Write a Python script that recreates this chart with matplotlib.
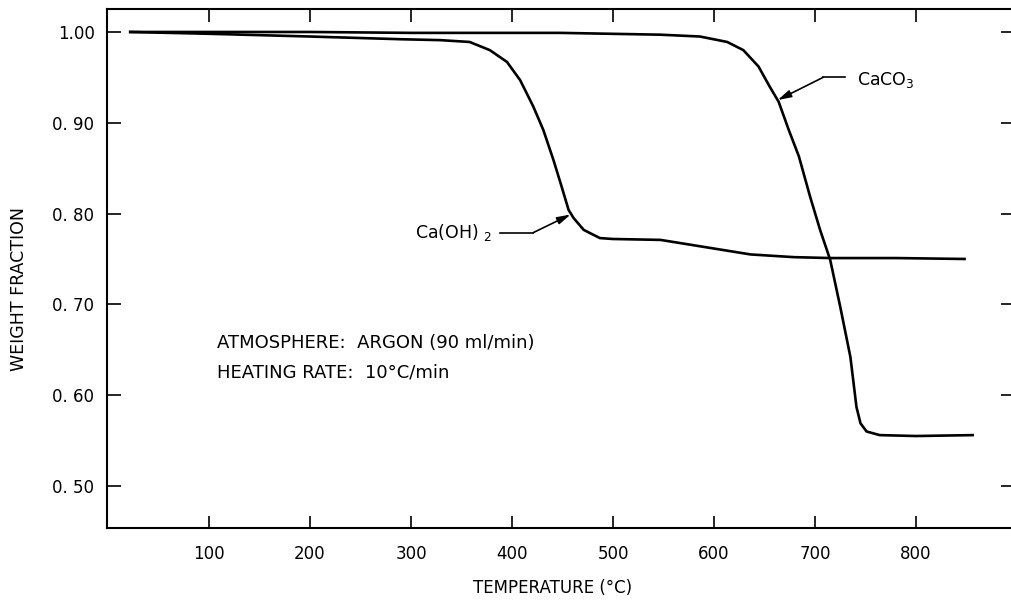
import matplotlib
matplotlib.use("Agg")
import matplotlib.pyplot as plt

plt.rcParams['font.family'] = ['DejaVu Sans']
plt.rcParams['mathtext.fontset'] = 'dejavusans'

# Ca(OH)2 weight loss curve
caoh_temp = [22, 100, 200, 290, 329, 358, 378, 395, 408, 421, 431, 441, 449, 456,
             461, 471, 487, 500, 547, 586, 636, 679, 715, 780, 848]
caoh_frac = [1.000, 0.998, 0.995, 0.992, 0.991, 0.989, 0.980, 0.967, 0.947, 0.918,
             0.892, 0.859, 0.830, 0.804, 0.795, 0.782, 0.773, 0.772, 0.771, 0.764,
             0.755, 0.752, 0.751, 0.751, 0.750]

# CaCO3 weight loss curve
caco_temp = [22, 200, 300, 448, 547, 586, 613, 629, 644, 655, 664, 674, 684, 695,
             705, 715, 725, 735, 741, 745, 751, 764, 800, 856]
caco_frac = [1.000, 1.000, 0.999, 0.999, 0.997, 0.995, 0.989, 0.980, 0.962, 0.940,
             0.923, 0.892, 0.863, 0.819, 0.782, 0.749, 0.697, 0.642, 0.587, 0.569,
             0.560, 0.556, 0.555, 0.556]

x_ticks = [100, 200, 300, 400, 500, 600, 700, 800]
y_ticks = [1.00, 0.90, 0.80, 0.70, 0.60, 0.50]
y_tick_labels = ['1.00', '0. 90', '0. 80', '0. 70', '0. 60', '0. 50']

fig = plt.figure(figsize=(10.11, 6.01), dpi=100)
ax = fig.add_axes([107 / 1011, 1 - 528 / 601, 1 - 107 / 1011, 519 / 601])

ax.plot(caoh_temp, caoh_frac, color='black', lw=1.9, solid_joinstyle='round')
ax.plot(caco_temp, caco_frac, color='black', lw=1.9, solid_joinstyle='round')

ax.set_xlim(-1, 894)
ax.set_ylim(0.4537, 1.0253)

ax.set_xticks(x_ticks)
ax.set_yticks(y_ticks)
ax.set_yticklabels(y_tick_labels)
ax.tick_params(axis='both', direction='in', width=1.2, labelsize=12,
               top=True, right=True, labelcolor='black')
ax.tick_params(axis='x', length=9, pad=12)
ax.tick_params(axis='y', which='major', left=True, length=10, pad=9)
ax.yaxis.set_tick_params(length=7, which='major', right=True, left=False)
# left ticks a bit longer than the right ones, as in the scan
for t in ax.yaxis.get_major_ticks():
    t.tick1line.set_visible(True)
    t.tick1line.set_markersize(10)
    t.tick2line.set_markersize(7)

for side in ['left', 'bottom', 'top']:
    ax.spines[side].set_linewidth(1.5)
ax.spines['right'].set_visible(False)

fig.text(553 / 1011, 1 - 588 / 601, 'TEMPERATURE (°C)', ha='center', va='center', fontsize=12)
fig.text(19 / 1011, 1 - 289 / 601, 'WEIGHT FRACTION', ha='center', va='center',
         rotation=90, fontsize=12.5)

# conditions note
ax.text(108, 0.652, 'ATMOSPHERE:  ARGON (90 ml/min)', fontsize=13, va='baseline')
ax.text(108, 0.619, 'HEATING RATE:  10°C/min', fontsize=13, va='baseline')

# CaCO3 label with leader
ax.text(742, 0.9416, 'CaCO$_3$', fontsize=12.5, va='baseline')
ax.plot([730, 708], [0.950, 0.950], color='black', lw=1.2)
ax.annotate('', xy=(663, 0.925), xytext=(708, 0.950),
            arrowprops=dict(arrowstyle='-|>,head_length=0.8,head_width=0.22',
                            color='black', lw=1.2, shrinkA=0, shrinkB=0))

# Ca(OH)2 label with leader
ax.text(304, 0.773, 'Ca(OH) $_2$', fontsize=12.5, va='baseline')
ax.plot([388, 421], [0.779, 0.779], color='black', lw=1.2)
ax.annotate('', xy=(458, 0.799), xytext=(421, 0.779),
            arrowprops=dict(arrowstyle='-|>,head_length=0.8,head_width=0.22',
                            color='black', lw=1.2, shrinkA=0, shrinkB=0))

fig.savefig('out.png', dpi=100)
